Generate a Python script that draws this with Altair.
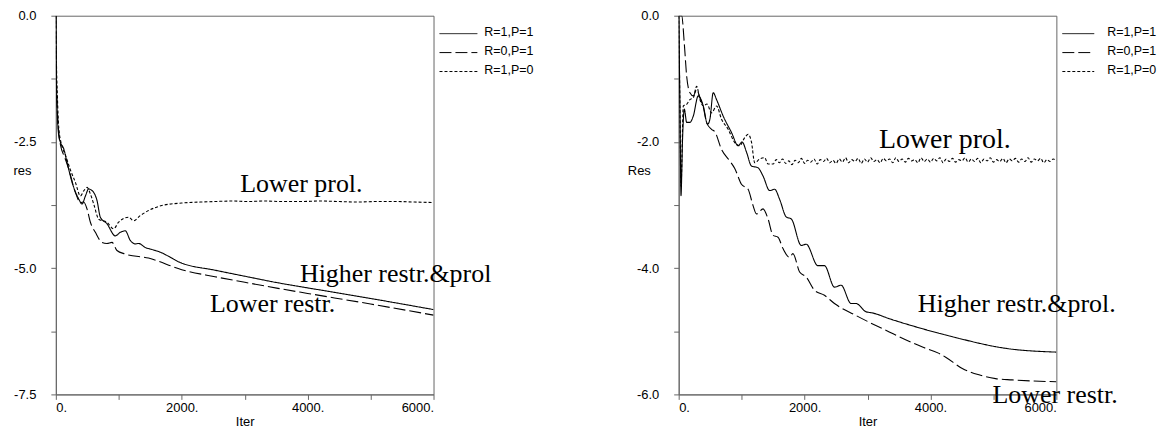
import altair as alt
import pandas as pd

SERIES = ["R=1,P=1", "R=0,P=1", "R=1,P=0"]
DASHES = [[1, 0], [12, 4], [3, 2]]

# ---------------- left panel data ----------------
L_S_X = [0, 5, 21, 47, 74, 127, 179, 258, 364, 416, 470, 522, 560, 602, 654, 707, 812, 945, 1024, 1103, 1183, 1261, 1314, 1420, 1525, 1631, 2000, 2528, 3003, 3530, 4000, 5000, 6000]
L_S_Y = [0, -0.87, -1.86, -2.38, -2.51, -2.64, -2.91, -3.30, -3.63, -3.73, -3.57, -3.43, -3.45, -3.50, -3.66, -3.99, -4.12, -4.36, -4.29, -4.26, -4.45, -4.52, -4.51, -4.59, -4.63, -4.67, -4.90, -5.04, -5.16, -5.29, -5.39, -5.60, -5.82]

L_D_X = [0, 5, 25, 74, 140, 206, 311, 390, 443, 496, 549, 628, 734, 812, 892, 971, 1103, 1472, 2000, 2528, 3003, 3530, 4000, 5000, 6000]
L_D_Y = [0, -0.9, -1.9, -2.56, -2.80, -3.04, -3.50, -3.70, -3.69, -3.83, -4.09, -4.29, -4.49, -4.51, -4.49, -4.65, -4.72, -4.80, -5.03, -5.17, -5.28, -5.40, -5.50, -5.71, -5.93]

L_P_X = [0, 8, 25, 45, 90, 150, 230, 311, 390, 443, 496, 549, 602, 681, 812, 918, 997, 1156, 1235, 1340, 1472, 1683, 2000, 2300, 2528, 2800, 3057, 3300, 3600, 3900, 4200, 4500, 4800, 5100, 5400, 5700, 6000]
L_P_Y = [0, -0.8, -1.6, -2.2, -2.55, -2.75, -3.05, -3.30, -3.57, -3.47, -3.40, -3.53, -3.73, -4.03, -4.09, -4.22, -4.09, -3.99, -4.06, -3.96, -3.86, -3.76, -3.71, -3.69, -3.68, -3.67, -3.68, -3.67, -3.68, -3.68, -3.67, -3.68, -3.69, -3.68, -3.68, -3.69, -3.70]

L_ANN_TEXT = ["Lower prol.", "Higher restr.&prol", "Lower restr."]
L_ANN_X = [2929, 3878, 2449]
L_ANN_Y = [-3.49, -5.28, -5.87]
L_YTICKS = [0, -1.25, -2.5, -3.75, -5, -6.25, -7.5]

# ---------------- right panel data ----------------
R_S_X = [0, 20, 37, 60, 90, 127, 179, 232, 311, 391, 459, 496, 549, 602, 707, 839, 945, 1008, 1077, 1156, 1261, 1340, 1446, 1525, 1604, 1710, 1789, 1947, 2026, 2211, 2316, 2475, 2580, 2739, 2818, 2976, 3082, 3345, 3873, 4401, 5192, 6000]
R_S_Y = [0, -1.4, -2.85, -2.0, -1.48, -1.69, -1.69, -1.59, -1.27, -1.43, -1.72, -1.64, -1.22, -1.33, -1.59, -1.85, -2.06, -2.00, -2.16, -2.38, -2.41, -2.54, -2.77, -2.75, -2.91, -3.19, -3.22, -3.64, -3.62, -3.96, -3.96, -4.30, -4.27, -4.56, -4.56, -4.69, -4.71, -4.80, -4.96, -5.10, -5.27, -5.33]

R_D_X = [0, 48, 90, 127, 179, 232, 285, 338, 391, 443, 522, 575, 681, 812, 891, 997, 1103, 1182, 1235, 1340, 1420, 1499, 1578, 1657, 1762, 1815, 1921, 2026, 2158, 2316, 2475, 2818, 3345, 3873, 4136, 4242, 4506, 4770, 5034, 5298, 6000]
R_D_Y = [0, 0, -0.45, -0.96, -1.22, -1.27, -1.17, -1.30, -1.45, -1.69, -1.80, -1.84, -2.12, -2.30, -2.42, -2.67, -2.75, -3.01, -3.14, -3.06, -3.22, -3.48, -3.51, -3.69, -3.83, -3.77, -4.06, -4.14, -4.35, -4.43, -4.56, -4.75, -5.01, -5.25, -5.35, -5.41, -5.59, -5.69, -5.75, -5.77, -5.80]

R_P_HEAD_X = [0, 20, 37, 74, 130, 179, 232, 285, 338, 391, 450, 522, 602, 681, 786, 891, 970, 1050, 1103, 1156, 1208, 1287, 1366, 1420]
R_P_HEAD_Y = [0, -1.4, -2.7, -1.43, -1.40, -1.33, -1.30, -1.12, -1.33, -1.43, -1.40, -1.54, -1.43, -1.64, -1.80, -2.01, -2.06, -1.93, -1.88, -2.00, -2.33, -2.27, -2.25, -2.35]
R_P_TAIL_X = list(range(1500, 6001, 50))
R_P_TAIL_Y = [
    -2.35, -2.28, -2.33, -2.27, -2.34, -2.30, -2.36, -2.29, -2.33, -2.26,
    -2.34, -2.29, -2.32, -2.27, -2.35, -2.28, -2.31, -2.26, -2.33, -2.29,
    -2.34, -2.27, -2.32, -2.25, -2.33, -2.28, -2.31, -2.26, -2.34, -2.27,
    -2.32, -2.25, -2.31, -2.28, -2.33, -2.26, -2.30, -2.27, -2.33, -2.25,
    -2.31, -2.27, -2.32, -2.26, -2.30, -2.28, -2.33, -2.25, -2.31, -2.27,
    -2.32, -2.26, -2.30, -2.25, -2.33, -2.27, -2.31, -2.26, -2.32, -2.28,
    -2.30, -2.25, -2.32, -2.27, -2.31, -2.26, -2.33, -2.27, -2.30, -2.25,
    -2.32, -2.28, -2.31, -2.26, -2.33, -2.27, -2.30, -2.26, -2.32, -2.27,
    -2.31, -2.25, -2.32, -2.27, -2.30, -2.26, -2.33, -2.28, -2.31, -2.27,
    -2.30,
]
R_P_X = R_P_HEAD_X + R_P_TAIL_X
R_P_Y = R_P_HEAD_Y + R_P_TAIL_Y

R_ANN_TEXT = ["Lower prol.", "Higher restr.&prol.", "Lower restr."]
R_ANN_X = [3182, 3799, 4986]
R_ANN_Y = [-2.09, -4.69, -6.14]
R_YTICKS = [0, -1, -2, -3, -4, -5, -6]

X_TICKS = [0, 1000, 2000, 3000, 4000, 5000, 6000]

LEG_LINE_Y = [18, 37, 56]
LEG_TEXT_Y = [16, 35, 54]

W, H = 379, 380


def panel(xs_list, ys_list, ymin, yticks, label_step, ytitle, ytitle_x,
          ann_text, ann_x, ann_y, ann_sizes, leg_x2):
    rows = []
    for name, xs, ys in zip(SERIES, xs_list, ys_list):
        for x, y in zip(xs, ys):
            rows.append({"series": name, "iter": x, "res": y})
    df = pd.DataFrame(rows)

    xscale = alt.Scale(domain=[0, 6000], nice=False, zero=False)
    yscale = alt.Scale(domain=[ymin, 0], nice=False, zero=False)

    ylabel_expr = (
        f"abs(datum.value / {label_step} - round(datum.value / {label_step})) < 0.001 ? "
        "replace(format(datum.value, '.1f'), '\u2212', '-') : ''"
    )
    xlabel_expr = "datum.value % 2000 == 0 ? datum.value + '.' : ''"

    lines = alt.Chart(df).mark_line(
        color="black", strokeWidth=1.1, clip=True, interpolate="monotone"
    ).encode(
        x=alt.X("iter:Q", scale=xscale,
                axis=alt.Axis(values=X_TICKS, labelExpr=xlabel_expr, title="Iter",
                              labelPadding=2, titlePadding=1)),
        y=alt.Y("res:Q", scale=yscale,
                axis=alt.Axis(values=yticks, labelExpr=ylabel_expr, title=ytitle,
                              labelPadding=15, titleAngle=0, titleX=ytitle_x,
                              titleY=155, titleAlign="center",
                              titleBaseline="middle")),
        strokeDash=alt.StrokeDash("series:N",
                                  scale=alt.Scale(domain=SERIES, range=DASHES),
                                  legend=None),
    )

    layers = [lines]
    for t, x, y, s in zip(ann_text, ann_x, ann_y, ann_sizes):
        adf = pd.DataFrame({"iter": [x], "res": [y], "label": [t]})
        layers.append(
            alt.Chart(adf).mark_text(
                align="left", baseline="alphabetic", font="Liberation Serif",
                fontSize=s, color="black"
            ).encode(x="iter:Q", y="res:Q", text="label:N")
        )

    for name, dash, ly, ty in zip(SERIES, DASHES, LEG_LINE_Y, LEG_TEXT_Y):
        ldf = pd.DataFrame({"series": [name]})
        layers.append(
            alt.Chart(ldf).mark_rule(color="black", strokeWidth=1, strokeDash=dash).encode(
                x=alt.value(385), x2=alt.value(leg_x2), y=alt.value(ly)
            )
        )
        layers.append(
            alt.Chart(ldf).mark_text(
                align="left", baseline="middle", font="Liberation Sans",
                fontSize=12.5, color="black"
            ).encode(x=alt.value(430), y=alt.value(ty), text="series:N")
        )

    return alt.layer(*layers).properties(width=W, height=H)


left = panel([L_S_X, L_D_X, L_P_X], [L_S_Y, L_D_Y, L_P_Y], -7.5, L_YTICKS, 2.5,
             "res", -34, L_ANN_TEXT, L_ANN_X, L_ANN_Y, [26, 26, 26], 423)
right = panel([R_S_X, R_D_X, R_P_X], [R_S_Y, R_D_Y, R_P_Y], -6, R_YTICKS, 2,
              "Res", -40, R_ANN_TEXT, R_ANN_X, R_ANN_Y, [28, 26, 26], 417)

chart = alt.hconcat(left, right, spacing=246, bounds="flush").properties(
    padding={"left": 4, "top": 0, "right": 5, "bottom": 5}
).configure_view(
    stroke="#666", strokeWidth=1
).configure_axis(
    grid=False, domainColor="#666", domainWidth=1, tickColor="#666", tickSize=5,
    labelFont="Liberation Sans", labelFontSize=13, labelColor="black",
    titleFont="Liberation Sans", titleFontSize=13, titleFontWeight="normal",
    titleColor="black"
)

chart.save("out.html", embed_options={"renderer": "svg", "actions": False})
